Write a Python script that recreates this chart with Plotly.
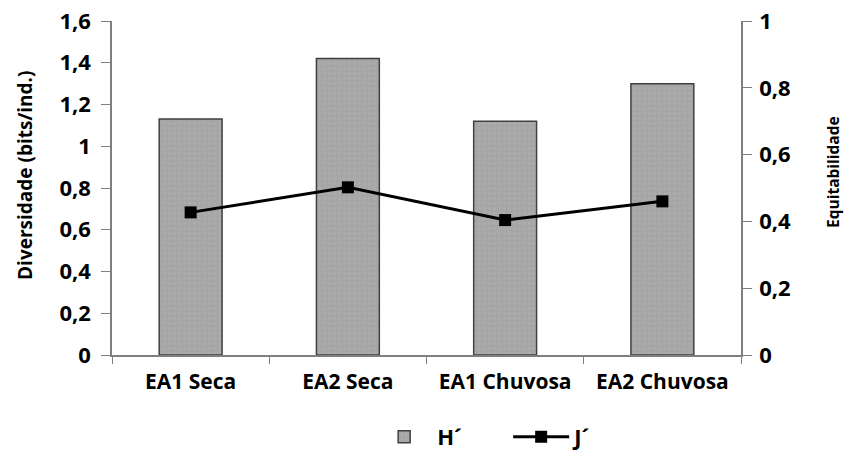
import plotly.graph_objects as go

# Diversity (H') and evenness (J') per sampling area and season
categories = ["EA1 Seca", "EA2 Seca", "EA1 Chuvosa", "EA2 Chuvosa"]
diversidade_h = [1.13, 1.42, 1.12, 1.30]
equitabilidade_j = [0.427, 0.502, 0.404, 0.460]

left_ticks = [0, 0.2, 0.4, 0.6, 0.8, 1.0, 1.2, 1.4, 1.6]
left_tick_text = ["0", "0,2", "0,4", "0,6", "0,8", "1", "1,2", "1,4", "1,6"]
right_ticks = [0, 0.2, 0.4, 0.6, 0.8, 1.0]
right_tick_text = ["0", "0,2", "0,4", "0,6", "0,8", "1"]

left_title = "Diversidade (bits/ind.)"
right_title = "Equitabilidade"

FONT = "Open Sans"
AXIS_GRAY = "#7f7f7f"

fig = go.Figure()

fig.add_trace(go.Bar(
    x=categories,
    y=diversidade_h,
    name="H´",
    width=0.4,
    marker=dict(
        color="#a6a6a6",
        line=dict(color="#404040", width=1.5),
        pattern=dict(shape=".", fgcolor="#b4b4b4", bgcolor="#a6a6a6",
                     size=5, solidity=0.25),
    ),
    yaxis="y",
))

fig.add_trace(go.Scatter(
    x=categories,
    y=equitabilidade_j,
    name="J´",
    mode="lines+markers",
    line=dict(color="black", width=3),
    marker=dict(symbol="square", size=12, color="black"),
    yaxis="y2",
))

# Axis titles placed as rotated annotations so they can sit slightly above centre
fig.add_annotation(
    text=left_title, textangle=-90,
    xref="paper", yref="paper", x=0, y=0.536,
    xshift=-87, xanchor="center", yanchor="middle",
    showarrow=False,
    font=dict(family=FONT, size=19, weight="bold", color="black"),
)
fig.add_annotation(
    text=right_title, textangle=-90,
    xref="paper", yref="paper", x=1, y=0.548,
    xshift=92, xanchor="center", yanchor="middle",
    showarrow=False,
    font=dict(family=FONT, size=15.5, weight="bold", color="black"),
)

fig.update_layout(
    width=846,
    height=450,
    margin=dict(l=112, r=105, t=21, b=95, autoexpand=False),
    plot_bgcolor="white",
    paper_bgcolor="white",
    font=dict(family=FONT, color="black", weight="bold"),
    showlegend=True,
    legend=dict(
        orientation="h",
        x=0.412, xanchor="left",
        y=-0.245, yanchor="middle",
        font=dict(family=FONT, size=22, weight="bold", color="black"),
        itemwidth=56,
        entrywidth=66,
        entrywidthmode="pixels",
        traceorder="normal",
    ),
    xaxis=dict(
        showline=True, linecolor=AXIS_GRAY, linewidth=1.5,
        ticks="outside", tickson="boundaries", ticklen=7, tickcolor=AXIS_GRAY,
        ticklabelstandoff=7,
        tickfont=dict(family=FONT, size=21, weight="bold", color="black"),
        showgrid=False, zeroline=False,
    ),
    yaxis=dict(
        range=[0, 1.6],
        tickvals=left_ticks, ticktext=left_tick_text,
        showline=True, linecolor=AXIS_GRAY, linewidth=1.5,
        ticks="outside", ticklen=9, tickcolor=AXIS_GRAY,
        ticklabelstandoff=6,
        tickfont=dict(family=FONT, size=22, weight="bold", color="black"),
        showgrid=False, zeroline=False,
    ),
    yaxis2=dict(
        range=[0, 1.0],
        overlaying="y", side="right",
        tickvals=right_ticks, ticktext=right_tick_text,
        showline=True, linecolor=AXIS_GRAY, linewidth=1.5,
        ticks="outside", ticklen=9, tickcolor=AXIS_GRAY,
        ticklabelstandoff=3,
        tickfont=dict(family=FONT, size=22, weight="bold", color="black"),
        showgrid=False, zeroline=False,
    ),
)

fig.write_html("out.html")
